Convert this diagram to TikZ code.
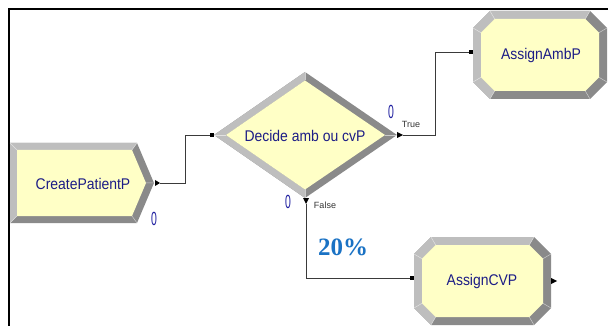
\documentclass[tikz,border=0pt]{standalone}
\usepackage{fontspec}
\setmainfont{Liberation Sans}
\newfontfamily\pctfont{Liberation Serif}
\usetikzlibrary{calc}
\definecolor{fillY}{HTML}{FFFFC6}
\definecolor{bevL}{HTML}{BEBEBE}
\definecolor{bevD}{HTML}{8A8A8A}
\definecolor{txtB}{HTML}{1C1C86}
\definecolor{zeroB}{HTML}{2020A0}
\definecolor{pctB}{HTML}{1A72C4}
\definecolor{lineG}{HTML}{3A3A3A}
\newcommand{\ntxt}[1]{\scalebox{0.9}[1]{#1}}
\newcommand{\nzero}{\scalebox{0.55}[1]{0}}
% octagon with bevel: x0 y0 x1 y1
\newcommand{\bevoct}[4]{%
  \def\bvc{17}\def\bvw{8}\def\bvi{13.7}%
  \fill[bevD] (#1+\bvc,#2) -- (#3-\bvc,#2) -- (#3,#2+\bvc) -- (#3,#4-\bvc) -- (#3-\bvc,#4) -- (#1+\bvc,#4) -- (#1,#4-\bvc) -- (#1,#2+\bvc) -- cycle;
  \fill[bevL] (#1+\bvc,#4) -- (#1,#4-\bvc) -- (#1,#2+\bvc) -- (#1+\bvc,#2) -- (#3-\bvc,#2)
     -- (#3-\bvw-\bvi,#2+\bvw) -- (#1+\bvw+\bvi,#2+\bvw) -- (#1+\bvw,#2+\bvw+\bvi) -- (#1+\bvw,#4-\bvw-\bvi) -- (#1+\bvw+\bvi,#4-\bvw) -- cycle;
  \fill[fillY] (#1+\bvw+\bvi,#2+\bvw) -- (#3-\bvw-\bvi,#2+\bvw) -- (#3-\bvw,#2+\bvw+\bvi) -- (#3-\bvw,#4-\bvw-\bvi) -- (#3-\bvw-\bvi,#4-\bvw) -- (#1+\bvw+\bvi,#4-\bvw) -- (#1+\bvw,#4-\bvw-\bvi) -- (#1+\bvw,#2+\bvw+\bvi) -- cycle;
  \draw[white,opacity=0.55,line width=0.5pt]
     (#1+\bvc,#2) -- (#1+\bvw+\bvi,#2+\bvw)
     (#3-\bvc,#2) -- (#3-\bvw-\bvi,#2+\bvw)
     (#3,#2+\bvc) -- (#3-\bvw,#2+\bvw+\bvi)
     (#3,#4-\bvc) -- (#3-\bvw,#4-\bvw-\bvi)
     (#3-\bvc,#4) -- (#3-\bvw-\bvi,#4-\bvw)
     (#1+\bvc,#4) -- (#1+\bvw+\bvi,#4-\bvw)
     (#1,#4-\bvc) -- (#1+\bvw,#4-\bvw-\bvi)
     (#1,#2+\bvc) -- (#1+\bvw,#2+\bvw+\bvi);
}
\tikzset{
  conn/.style={draw=lineG, line width=0.9pt},
  mtext/.style={font=\fontsize{15.5}{17}\selectfont, text=txtB, inner sep=0pt},
  zlbl/.style={font=\fontsize{19}{20}\selectfont, text=zeroB, inner sep=0pt},
  blbl/.style={font=\fontsize{9}{10}\selectfont, text=black!80, inner sep=0pt},
  tipf/.style={fill=black},
  sq/.style={fill=black}
}
\begin{document}
\begin{tikzpicture}[x=1pt,y=-1pt]
\useasboundingbox (0,0) rectangle (608,326);
% frame
\draw[black, line width=2pt] (9,326) -- (9,9) -- (608,9);

% ---- CreatePatientP (chevron)
\fill[bevD] (10,143) -- (137,143) -- (154,183) -- (137,223) -- (10,223) -- cycle;
\fill[bevL] (10,223) -- (10,143) -- (137,143) -- (132,150) -- (17,150) -- (17,216) -- cycle;
\fill[fillY] (17,150) -- (132,150) -- (146,183) -- (132,216) -- (17,216) -- cycle;
\draw[white,opacity=0.55,line width=0.5pt] (10,143) -- (17,150) (10,223) -- (17,216) (137,143) -- (132,150) (154,183) -- (146,183) (137,223) -- (132,216);
\node[mtext] (create) at (83,184) {\ntxt{CreatePatientP}};
\node[zlbl] (zc) at (154,219) {\nzero};

% ---- Decide (diamond)
\fill[bevD] (214,135) -- (305,72) -- (397,135) -- (305,198) -- cycle;
\fill[bevL] (305,72) -- (214,135) -- (305,198) -- (305,189.5) -- (226,135) -- (305,80.5) -- cycle;
\fill[fillY] (226,135) -- (305,80.5) -- (385,135) -- (305,189.5) -- cycle;
\draw[white,opacity=0.55,line width=0.5pt] (214,135) -- (226,135) (397,135) -- (385,135) (305,72) -- (305,80.5) (305,198) -- (305,189.5);
\node[mtext] (decide) at (305,136) {\ntxt{Decide amb ou cvP}};
\node[zlbl] (zt) at (391,112) {\nzero};
\node[zlbl] (zf) at (288,202) {\nzero};
\node[blbl] (ltrue) at (411,124) {True};
\node[blbl] (lfalse) at (325,205) {False};

% ---- AssignAmbP
\bevoct{473}{11}{607}{99}
\node[mtext] (amb) at (541,55) {\ntxt{AssignAmbP}};

% ---- AssignCVP
\bevoct{414}{237}{551}{325}
\node[mtext] (cvp) at (482,281) {\ntxt{AssignCVP}};

% ---- percentage
\node[font=\pctfont\bfseries\fontsize{25}{27}\selectfont, text=pctB, inner sep=0pt] (pct) at (343,247) {20\%};

% ---- ports
\coordinate (createout) at (160,183);
\coordinate (decin) at (212,135);
\coordinate (trueout) at (403,135);
\coordinate (falseout) at (306,204);
\coordinate (ambin) at (471,52);
\coordinate (cvpin) at (412,278);
\coordinate (cvpout) at (557,281);

% exit triangles
\fill[tipf] (155,180) -- (createout) -- (155,186) -- cycle;
\fill[tipf] (397,132) -- (trueout) -- (397,138) -- cycle;
\fill[tipf] (303,198) -- (falseout) -- (309,198) -- cycle;
\fill[tipf] (551,278) -- (cvpout) -- (551,284) -- cycle;

% connectors
\draw[conn] (createout) -- ++(25,0) |- (decin);
\draw[conn] (trueout) -- ++(32,0) |- (ambin);
\draw[conn] (falseout) |- (cvpin);

% entry squares
\fill[sq] ($(decin)+(-2,-2)$) rectangle ($(decin)+(2,2)$);
\fill[sq] ($(ambin)+(-2,-2)$) rectangle ($(ambin)+(2,2)$);
\fill[sq] ($(cvpin)+(-2,-2)$) rectangle ($(cvpin)+(2,2)$);
\end{tikzpicture}
\end{document}
